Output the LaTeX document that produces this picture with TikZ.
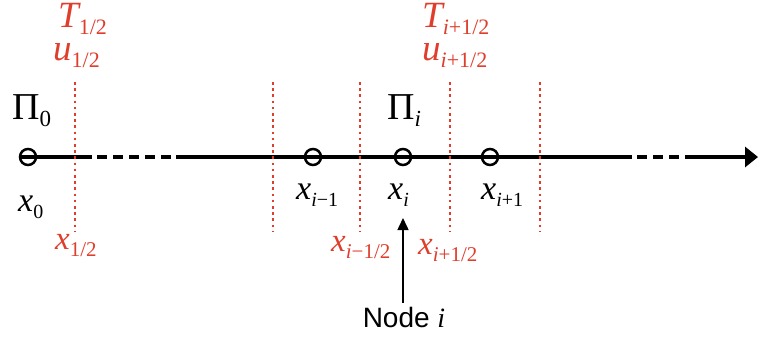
\documentclass[tikz,border=0pt]{standalone}
\usepackage{fontspec}
\setmainfont{Liberation Serif}
\newfontfamily\helv{Liberation Sans}
\usetikzlibrary{arrows.meta}
\definecolor{lred}{RGB}{224,62,45}
\newcommand{\sbs}[3]{\raisebox{-#2pt}{\fontsize{#1}{#1}\selectfont #3}}
\begin{document}
\begin{tikzpicture}[x=1pt,y=-1pt,
  axisline/.style={line width=3.3pt},
  axisdash/.style={line width=3.3pt,dash pattern=on 10pt off 6pt},
  pt/.style={circle,draw,line width=2.5pt,inner sep=0pt,minimum size=16pt},
  face/.style={draw=lred,line width=1.3pt,dash pattern=on 2.6pt off 3.6pt},
  blab/.style={anchor=base west,inner sep=0pt,font=\fontsize{34}{38}\selectfont},
  rlab/.style={anchor=base west,inner sep=0pt,text=lred,font=\fontsize{33}{38}\selectfont},
  rbig/.style={anchor=base west,inner sep=0pt,text=lred,font=\fontsize{37}{42}\selectfont},
  pilab/.style={anchor=base west,inner sep=0pt,font=\fontsize{38}{42}\selectfont}]
\useasboundingbox (0,0) rectangle (758,338);

% axis break coordinates
\coordinate (a1) at (92,157);
\coordinate (a2) at (97,157);
\coordinate (a3) at (176,157);
\coordinate (b1) at (632,157);
\coordinate (b2) at (637,157);
\coordinate (b3) at (686,157);
\coordinate (tip) at (758,157);

% points
\node[pt] (x0) at (28,157) {};
\node[pt] (xm) at (313,157) {};
\node[pt] (xi) at (403,157) {};
\node[pt] (xp) at (490,157) {};

% axis
\draw[axisline] (x0.west) -- (a1);
\draw[axisdash] (a2) -- (a3);
\draw[axisline] (a3) -- (b1);
\draw[axisdash] (b2) -- (b3);
\draw[axisline,-{Triangle[length=13pt,width=20pt]}] (b3) -- (tip);

% faces (dotted red)
\foreach \n/\xx in {f0/75,f1/273,f2/360,f3/450,f4/540}{
  \coordinate (\n t) at (\xx,82);
  \coordinate (\n b) at (\xx,232);
  \draw[face] (\n t) -- (\n b);
}

% labels
\node[rbig] (T0) at (58,27) {\itshape T\sbs{22}{7}{\upshape 1/2}};
\node[rbig] (u0) at (53,60) {\itshape u\sbs{22}{7}{\upshape 1/2}};
\node[rbig] (Ti) at (422,27) {\itshape T\sbs{22}{7}{i\upshape +1/2}};
\node[rbig] (ui) at (422,60) {\itshape u\sbs{22}{7}{i\upshape +1/2}};
\node[pilab] (P0) at (12,119) {Π\sbs{23}{7}{0}};
\node[pilab] (Pi) at (387,119) {Π\sbs{23}{7}{\itshape i}};

\node[blab] (lx0) at (18,211) {\itshape x\sbs{20}{7}{\upshape 0}};
\node[blab] (lxm) at (296,199) {\itshape x\sbs{20}{7}{i\upshape −1}};
\node[blab] (lxi) at (388,199) {\itshape x\sbs{20}{7}{i}};
\node[blab] (lxp) at (481,199) {\itshape x\sbs{20}{7}{i\upshape +1}};

\node[rlab] (h0) at (55,249) {\itshape x\sbs{21}{7}{\upshape 1/2}};
\node[rlab] (hm) at (331,251) {\itshape x\sbs{21}{7}{i\upshape −1/2}};
\node[rlab] (hp) at (418,254) {\itshape x\sbs{21}{7}{i\upshape +1/2}};

\node[anchor=base,inner sep=0pt,font=\helv\fontsize{28}{32}\selectfont] (nodei) at (404,327) {Node {\rmfamily\itshape i}};
\coordinate (arrtip) at (403,218);
\draw[line width=1.5pt,-{Triangle[length=12pt,width=11pt]}] (nodei.north -| arrtip) ++(0,-4) -- (arrtip);
\end{tikzpicture}
\end{document}
